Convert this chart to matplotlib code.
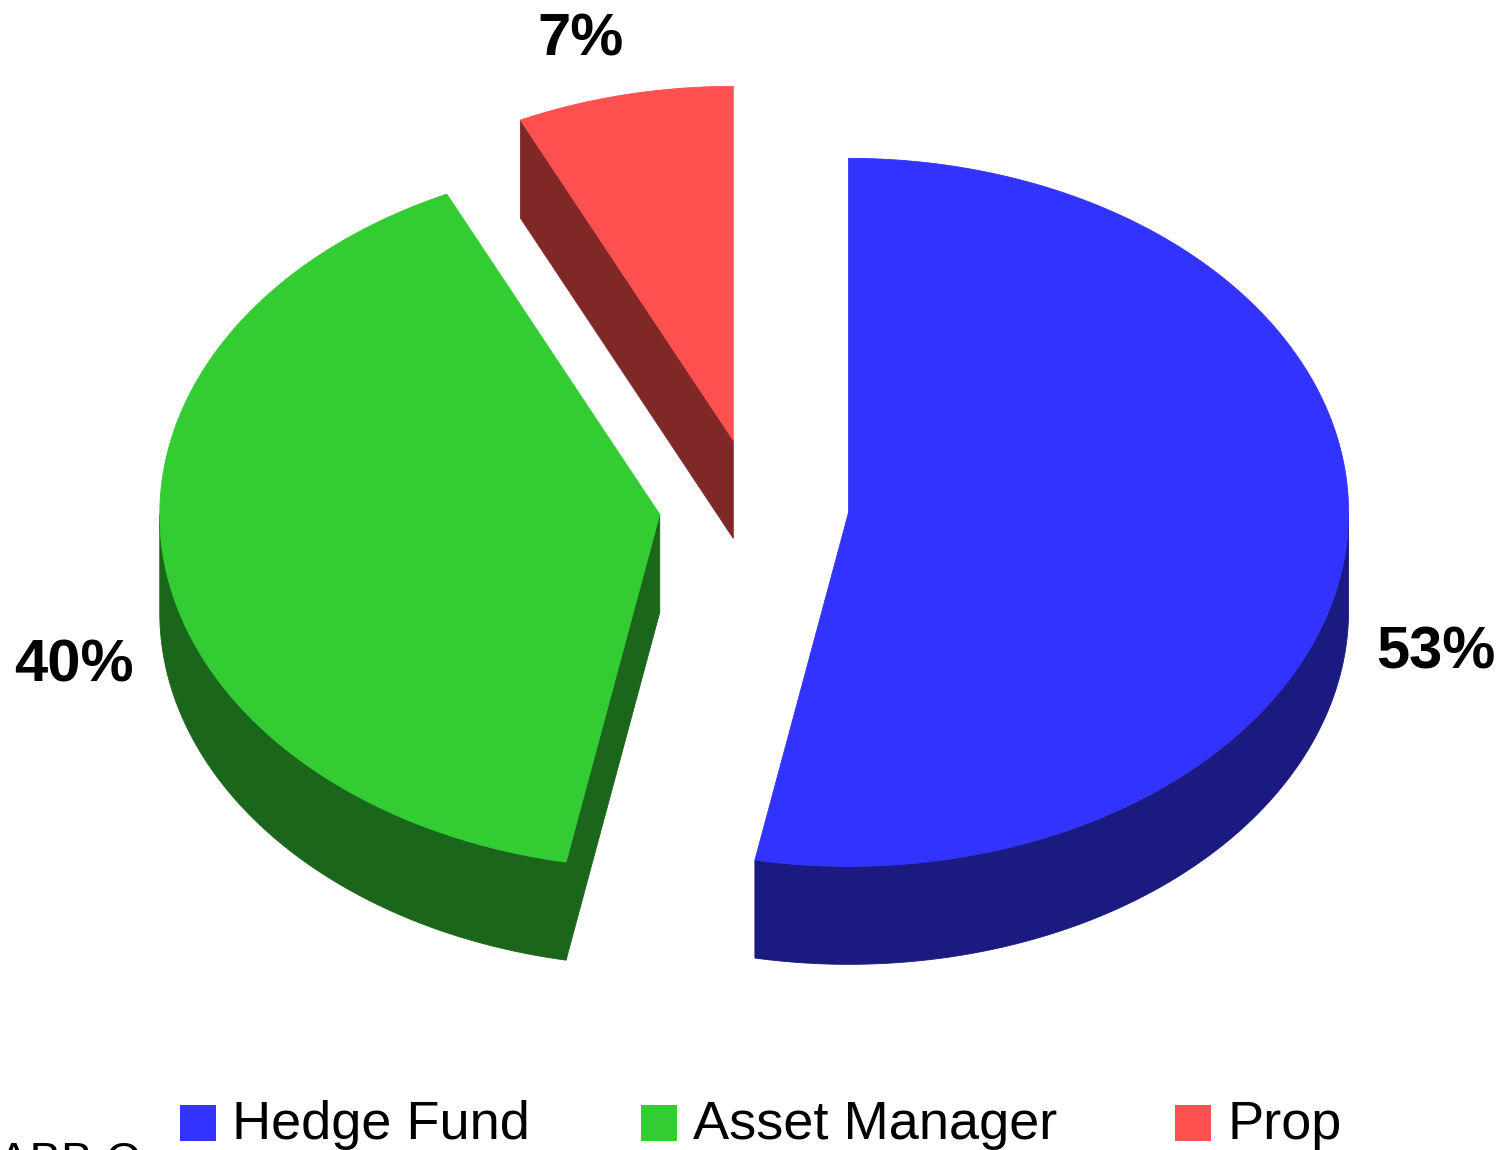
import numpy as np
import matplotlib
matplotlib.use("Agg")
import matplotlib.pyplot as plt
from matplotlib.patches import Polygon, Rectangle

# ── data ──────────────────────────────────────
labels = ["Hedge Fund", "Asset Manager", "Prop"]
shares = [53, 40, 7]
top_colors = ["#3333FF", "#33CC33", "#FF5050"]
side_colors = ["#1A1A80", "#1A661A", "#802828"]

# ── layout (pixels) ───────────────────────────
W, H = 1505, 1150
CX, CY = 754, 506          # centre of the un-exploded pie
RX, RY = 500, 354          # ellipse radii of the top face
DEPTH = 98                 # thickness of the disc
EXPLODE = 0.19             # fraction of the radius
LABEL_GAP = 30
LEGEND_X = [180, 641, 1175]
LEGEND_Y = 1123
SQ = 36

plt.rcParams["font.family"] = ["Liberation Sans", "DejaVu Sans"]

fig = plt.figure(figsize=(W / 100, H / 100), dpi=100)
ax = fig.add_axes([0, 0, 1, 1])
ax.set_xlim(0, W)
ax.set_ylim(H, 0)
ax.axis("off")


def arc(cx, cy, t0, t1, n=200):
    t = np.radians(np.linspace(t0, t1, n))
    return np.column_stack([cx + RX * np.cos(t), cy - RY * np.sin(t)])


def poly(pts, color, z):
    ax.add_patch(Polygon(pts, closed=True, facecolor=color,
                         edgecolor=color, linewidth=0.6, zorder=z))


total = float(sum(shares))
slices = []
start = 90.0
for lab, val, tc, sc in zip(labels, shares, top_colors, side_colors):
    sweep = val / total * 360.0
    t_start, t_end = start, start - sweep
    mid = np.radians((t_start + t_end) / 2)
    cx = CX + EXPLODE * RX * np.cos(mid)
    cy = CY - EXPLODE * RY * np.sin(mid)
    slices.append((val, tc, sc, t_start, t_end, mid, cx, cy))
    start = t_end

# back to front
for val, tc, sc, t_start, t_end, mid, cx, cy in sorted(slices, key=lambda s: s[7]):
    z = cy / 100.0
    # outer wall, only where the rim faces the viewer (lower half)
    for k in (-2, -1, 0, 1):
        lo = max(t_end, -180 + 360 * k)
        hi = min(t_start, 0 + 360 * k)
        if hi > lo:
            rim = arc(cx, cy, lo, hi)
            wall = np.vstack([rim, (rim + [0, DEPTH])[::-1]])
            poly(wall, sc, z)
    # radial walls facing the viewer
    for t, sign in ((t_start, -1), (t_end, 1)):
        if sign * np.cos(np.radians(t)) > 1e-6:
            ex, ey = arc(cx, cy, t, t, 1)[0]
            face = [(cx, cy), (ex, ey), (ex, ey + DEPTH), (cx, cy + DEPTH)]
            poly(face, sc, z)
    # top face
    top = np.vstack([[cx, cy], arc(cx, cy, t_end, t_start)])
    poly(top, tc, z + 0.01)

    # percentage label, placed just outside the rim
    c, s = np.cos(mid), np.sin(mid)
    lx = cx + RX * c
    ly = cy - RY * s
    if abs(s) > 0.7:
        ha = "right" if c < 0 else "left"
        ly -= 39 if s > 0 else -(DEPTH + 60)
    else:
        lx += LABEL_GAP * np.sign(c)
        ha = "left" if c > 0 else "right"
        ly += (DEPTH if s < 0 else 0) + 25
    ax.text(lx, ly, f"{val:.0f}%", fontsize=43, fontweight="bold",
            ha=ha, va="baseline", zorder=10)

# ── legend ────────────────────────────────────
for x, lab, tc in zip(LEGEND_X, labels, top_colors):
    ax.add_patch(Rectangle((x, LEGEND_Y - SQ / 2), SQ, SQ, facecolor=tc,
                           edgecolor="none"))
    ax.text(x + SQ + 16, LEGEND_Y + 2, lab, fontsize=39, ha="left",
            va="center", zorder=10)

ax.text(-2, 1141, "ABB Co", fontsize=34, ha="left", va="top")

fig.savefig("out.png", dpi=100, facecolor="white")
